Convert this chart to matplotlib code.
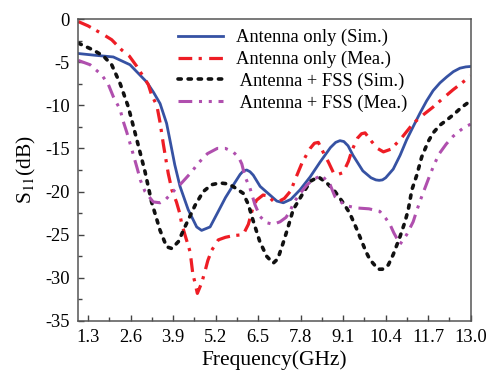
import numpy as np
import matplotlib
matplotlib.use("Agg")
import matplotlib.pyplot as plt
from matplotlib.ticker import MultipleLocator, FixedLocator

plt.rcParams['font.family'] = ['Liberation Serif', 'DejaVu Serif']
plt.rcParams['mathtext.fontset'] = 'stix'
plt.rcParams['axes.unicode_minus'] = False

# Antenna only (Sim.)
f_sim = [1.0, 1.5, 2.07, 2.58, 3.09, 3.3, 3.5, 3.7, 3.8, 3.95, 4.11, 4.36, 4.62, 4.77,
         5.03, 5.28, 5.5, 5.73, 5.95, 6.05, 6.15, 6.25, 6.35, 6.56, 6.86, 7.07, 7.27,
         7.5, 7.78, 8.09, 8.39, 8.71, 8.87, 9.0, 9.12, 9.25, 9.4, 9.7, 9.95, 10.1,
         10.2, 10.3, 10.4, 10.63, 10.84, 11.04, 11.25, 11.45, 11.65, 11.85, 12.06,
         12.27, 12.47, 12.67, 12.85, 13.0]
s_sim = [-4.0, -4.2, -4.4, -5.3, -7.3, -8.5, -9.8, -12.1, -14.0, -16.9, -19.4, -22.1,
         -24.1, -24.5, -24.1, -22.3, -20.7, -19.3, -18.0, -17.6, -17.5, -17.7, -18.1,
         -19.4, -20.4, -21.1, -21.3, -20.9, -19.8, -18.3, -16.6, -14.9, -14.3, -14.1,
         -14.2, -14.7, -15.8, -17.6, -18.4, -18.65, -18.7, -18.65, -18.4, -17.4,
         -15.8, -14.0, -12.4, -10.9, -9.5, -8.3, -7.4, -6.7, -6.1, -5.7, -5.55, -5.5]

# Antenna only (Mea.)
f_mea = [1.0, 1.3, 1.72, 2.02, 2.33, 2.56, 2.79, 3.14, 3.24, 3.4, 3.5, 3.6, 3.75,
         3.86, 4.0, 4.1, 4.16, 4.26, 4.42, 4.5, 4.57, 4.64, 4.77, 4.87, 4.96, 5.08,
         5.28, 5.5, 5.75, 6.04, 6.2, 6.33, 6.45, 6.65, 6.8, 6.96, 7.1, 7.3, 7.5, 7.62,
         7.85, 8.09, 8.22, 8.34, 8.51, 8.65, 8.8, 8.95, 9.1, 9.26, 9.37, 9.54, 9.66,
         9.77, 9.97, 10.15, 10.33, 10.55, 10.84, 11.24, 11.55, 11.85, 12.15, 12.46,
         12.7, 12.9, 13.0]
s_mea = [-0.3, -0.8, -1.7, -2.4, -3.6, -4.3, -5.5, -7.6, -8.8, -10.0, -12.0, -14.5,
         -17.9, -19.8, -21.2, -22.5, -23.7, -25.0, -27.0, -29.5, -30.6, -31.8, -30.6,
         -29.3, -28.0, -26.8, -25.6, -25.3, -25.1, -25.0, -23.8, -22.0, -21.0, -20.4,
         -20.5, -21.1, -21.2, -20.8, -19.9, -18.7, -16.6, -15.0, -14.4, -14.3, -15.6,
         -16.6, -17.8, -18.0, -17.8, -16.5, -15.2, -13.8, -13.3, -13.2, -14.2, -15.0,
         -15.4, -15.1, -14.0, -12.1, -11.1, -10.2, -9.2, -8.2, -7.5, -6.9, -6.6]

# Antenna + FSS (Sim.)
f_fss_sim = [1.0, 1.46, 1.77, 2.02, 2.28, 2.53, 2.79, 3.04, 3.24, 3.5, 3.7, 3.86,
             4.06, 4.26, 4.57, 4.82, 5.08, 5.33, 5.55, 5.73, 6.04, 6.2, 6.34, 6.55,
             6.76, 6.96, 7.1, 7.26, 7.4, 7.57, 7.87, 8.1, 8.34, 8.6, 8.85, 9.1, 9.3,
             9.52, 9.8, 9.92, 10.17, 10.3, 10.48, 10.63, 10.84, 10.99, 11.09, 11.2,
             11.35, 11.5, 11.7, 11.85, 12.06, 12.27, 12.5, 12.7, 12.88, 13.0]
s_fss_sim = [-2.8, -3.6, -4.3, -5.3, -7.5, -10.2, -14.0, -17.7, -21.2, -24.5, -26.4,
             -26.6, -25.8, -24.1, -21.6, -20.0, -19.2, -19.0, -19.1, -19.4, -20.2,
             -21.5, -23.3, -25.8, -27.5, -28.3, -27.8, -26.0, -24.3, -22.1, -20.2,
             -18.8, -18.3, -19.0, -20.0, -21.3, -22.5, -24.4, -27.0, -27.9, -29.0,
             -29.0, -28.5, -27.3, -25.2, -23.5, -22.1, -19.8, -18.1, -16.0, -14.2,
             -13.2, -12.3, -11.7, -11.0, -10.3, -9.8, -9.5]

# Antenna + FSS (Mea.)
f_fss_mea = [1.0, 1.36, 1.72, 1.92, 2.07, 2.28, 2.36, 2.48, 2.65, 2.8, 2.9, 3.04,
             3.29, 3.5, 3.65, 3.9, 4.16, 4.47, 4.67, 4.95, 5.25, 5.5, 5.73, 5.9, 6.0,
             6.1, 6.25, 6.4, 6.56, 6.75, 6.96, 7.17, 7.35, 7.47, 7.6, 7.83, 8.0, 8.19,
             8.44, 8.7, 8.85, 9.15, 9.51, 9.89, 10.22, 10.4, 10.53, 10.65, 10.84, 11.04,
             11.24, 11.35, 11.47, 11.6, 11.75, 11.89, 12.04, 12.25, 12.46, 12.65,
             12.82, 13.0]
s_fss_mea = [-4.8, -5.3, -6.5, -7.6, -9.0, -10.5, -11.7, -13.1, -15.3, -17.3, -18.7,
             -20.0, -21.2, -21.3, -21.0, -20.0, -19.0, -17.7, -16.7, -15.6, -15.0,
             -15.0, -15.4, -16.0, -16.8, -18.3, -19.6, -21.5, -22.9, -23.6, -23.8,
             -23.5, -23.0, -22.3, -21.2, -20.0, -19.2, -18.6, -18.1, -19.2, -20.6,
             -21.6, -21.9, -22.0, -22.3, -23.1, -23.8, -24.8, -26.1, -25.0, -23.5,
             -22.2, -20.9, -19.6, -18.1, -16.8, -15.6, -14.5, -13.6, -13.0, -12.5,
             -12.2]

labels = ["Antenna only (Sim.)", "Antenna only (Mea.)",
          " Antenna + FSS (Sim.)", " Antenna + FSS (Mea.)"]
xticks = [1.3, 2.6, 3.9, 5.2, 6.5, 7.8, 9.1, 10.4, 11.7, 13.0]

fig = plt.figure(figsize=(4.91, 3.80), dpi=100)
ax = fig.add_axes([0.1595, 0.1553, 0.7992, 0.7947])

ax.plot(f_sim, s_sim, color='#3652a3', lw=2.0, label=labels[0])
ax.plot(f_mea, s_mea, color='#ee1d25', lw=2.3, dashes=(4.3, 2.0, 1.0, 2.3), label=labels[1])
ax.plot(f_fss_sim, s_fss_sim, color='#111111', lw=2.6, dashes=(0.9, 1.9),
        dash_capstyle='round', label=labels[2])
ax.plot(f_fss_mea, s_fss_mea, color='#b04fae', lw=2.2,
        dashes=(4.5, 2.2, 1.0, 2.2, 1.0, 2.2), label=labels[3])

ax.set_xlim(1.0, 13.0)
ax.set_ylim(-35, 0)
ax.xaxis.set_major_locator(FixedLocator(xticks))
ax.xaxis.set_minor_locator(FixedLocator([x + 0.65 for x in xticks[:-1]]))
ax.set_xticklabels([f"{x:.1f}" for x in xticks])
ax.yaxis.set_major_locator(MultipleLocator(5))
ax.yaxis.set_minor_locator(MultipleLocator(2.5))
ax.tick_params(which='both', direction='in', labelsize=13.3, color='#444444', width=1.0)
ax.tick_params(which='major', length=4, pad=6)
ax.tick_params(which='minor', length=3)
for sp in ax.spines.values():
    sp.set_color('#555555')
    sp.set_linewidth(1.1)

ax.set_xlabel("Frequency(GHz)", fontsize=15.5, labelpad=3)
ax.set_ylabel(r"S$_{\mathrm{11}}$(dB)", fontsize=15.5, labelpad=5)

ax.legend(loc='upper left', bbox_to_anchor=(178 / 491, 1 - 29 / 380),
          bbox_transform=fig.transFigure, frameon=False, fontsize=13.3,
          handlelength=2.45, handletextpad=0.7, labelspacing=0.245,
          borderpad=0, borderaxespad=0)

fig.savefig("out.png", dpi=100)
